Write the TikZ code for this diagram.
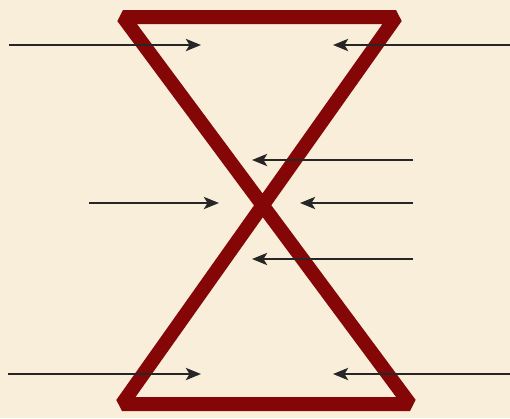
\documentclass[tikz,border=0pt]{standalone}
\usetikzlibrary{arrows.meta}
\definecolor{bgbeige}{HTML}{F8EED9}
\definecolor{hgred}{HTML}{850606}
\definecolor{arrowgray}{HTML}{262626}
\begin{document}
\begin{tikzpicture}[x=1pt,y=-1pt,
  hourglass/.style={draw=hgred,line width=14pt,line join=bevel},
  force/.style={draw=arrowgray,line width=2.8pt,-{Stealth[length=15pt,width=12pt,inset=3.5pt]}}]
\fill[bgbeige] (0,0) rectangle (510,418);
\useasboundingbox (0,0) rectangle (510,418);
% hourglass
\coordinate (TL) at (123,17);
\coordinate (TR) at (396,17);
\coordinate (BL) at (122,404);
\coordinate (BR) at (410,404);
\draw[hourglass] (TL) -- (TR) -- (BL) -- (BR) -- cycle;
% arrows
\coordinate (a1s) at (9,45);   \coordinate (a1e) at (201,45);
\coordinate (a2s) at (512,45); \coordinate (a2e) at (333,45);
\coordinate (a3s) at (413,160); \coordinate (a3e) at (252,160);
\coordinate (a4s) at (89,203); \coordinate (a4e) at (219,203);
\coordinate (a5s) at (413,203); \coordinate (a5e) at (300,203);
\coordinate (a6s) at (413,259); \coordinate (a6e) at (252,259);
\coordinate (a7s) at (8,374);  \coordinate (a7e) at (201,374);
\coordinate (a8s) at (512,374); \coordinate (a8e) at (333,374);
\foreach \i in {1,...,8}{\draw[force] (a\i s) -- (a\i e);}
\end{tikzpicture}
\end{document}
